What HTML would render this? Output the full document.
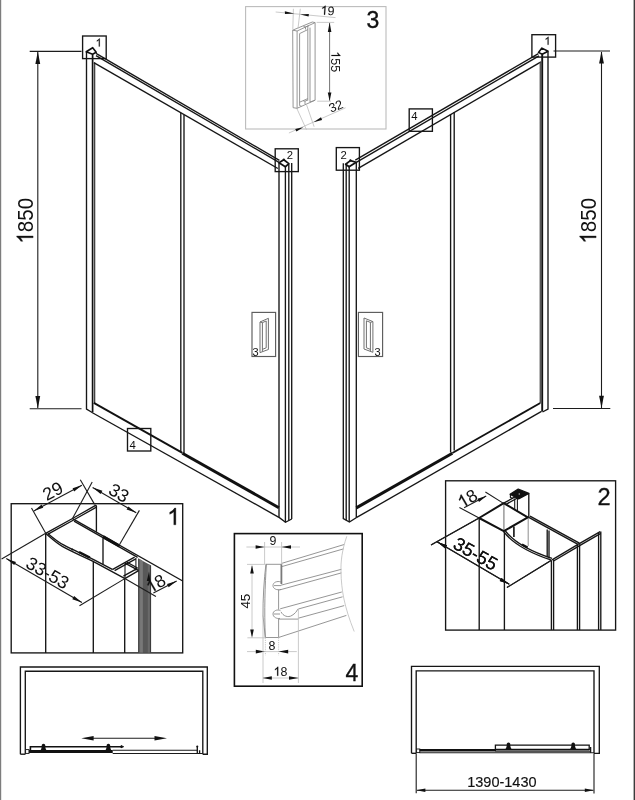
<!DOCTYPE html>
<html><head><meta charset="utf-8">
<style>
html,body{margin:0;padding:0;background:#fff;}
body{width:635px;height:800px;overflow:hidden;position:relative;font-family:"Liberation Sans",sans-serif;}
svg{position:absolute;left:0;top:0;display:block;opacity:0.999;will-change:transform}
text{font-family:"Liberation Sans",sans-serif;fill:#111}
.k{stroke:#161616;fill:none;stroke-width:1.35}
.k2{stroke:#111;fill:none;stroke-width:2}
.k3{stroke:#111;fill:none;stroke-width:2.6}
.t{stroke:#1c1c1c;fill:none;stroke-width:1.1}
.g{stroke:#8a8a8a;fill:none;stroke-width:0.9}
.hg{stroke:#707070;fill:none;stroke-width:1}
.lg{stroke:#bdbdbd;fill:none;stroke-width:0.8}
.a{fill:#111;stroke:none}
</style></head><body>
<svg width="635" height="800" viewBox="0 0 635 800">
<rect x="0" y="0" width="635" height="800" fill="#fff"/>
<!-- page edge lines -->
<rect x="0" y="0" width="1.2" height="800" fill="#7d7d7d"/>
<rect x="633.6" y="0" width="1.4" height="800" fill="#3c3c3c"/>

<!-- ============ LEFT PANEL ============ -->
<g id="leftpanel">
<!-- left post -->
<path class="k" d="M86.5 52 V409 L92.2 412.5"/>
<path d="M92.6 54.5 V412.3" stroke="#111" stroke-width="1.7" fill="none"/>
<path d="M94.7 62.4 V403" stroke="#222" stroke-width="1.1" fill="none"/>
<!-- cap -->
<path d="M86.2 51.8 L92.7 47.7 L96.2 52.3 L92.6 54.3 Z" stroke="#111" stroke-width="1.6" fill="#fff" stroke-linejoin="round"/>
<!-- top rail -->
<path class="k" d="M96 53.4 L279.4 160.3"/>
<path class="k" d="M96 55.6 L279 162.4"/>
<path class="k" d="M93.8 62.7 L277.9 168.5"/>
<!-- divider -->
<path class="k" d="M180.8 113 V452"/>
<path class="k" d="M184 115 V454"/>
<!-- bottom rail -->
<path d="M93.8 402.8 L182.4 452.9" stroke="#111" stroke-width="1.9" fill="none"/>
<path d="M182.4 453.2 L278.9 507.7" stroke="#111" stroke-width="3" fill="none"/>
<path class="k" d="M92 412.5 L278.9 517.3"/>
<!-- right post -->
<path class="k" d="M279 163 V517.3 L285.5 522.3 L291.7 519"/>
<path class="k" d="M285.4 167 V522.3"/>
<path class="k" d="M288.8 163.6 V520.6"/>
<path class="k" d="M291.7 163 V519"/>
<path d="M279 162.8 L283.8 159.8 L288.8 163.6 L285.3 166.8 Z" stroke="#111" stroke-width="1.7" fill="#fff" stroke-linejoin="round"/>
<circle cx="283.8" cy="159.7" r="1.1" fill="#111"/>
</g>

<!-- ============ RIGHT PANEL ============ -->
<g id="rightpanel">
<!-- left post -->
<path class="k" d="M343.3 163.3 V518.6 L349.4 522 L356.2 517.7"/>
<path class="k" d="M346.2 164.8 V520.2"/>
<path class="k" d="M349.2 167 V522"/>
<path class="k" d="M356.3 162 V517.7"/>
<path d="M345.6 164.2 L350.4 160.6 L356.2 162.2 L349.1 166.8 Z" stroke="#111" stroke-width="1.7" fill="#fff" stroke-linejoin="round"/>
<circle cx="350.4" cy="160.4" r="1.1" fill="#111"/>
<!-- top rail -->
<path class="k" d="M355.3 160.2 L538.4 53.6"/>
<path class="k" d="M356.3 162.4 L539 55.8"/>
<path class="k" d="M358.2 168.3 L541 61.9"/>
<!-- divider -->
<path class="k" d="M450.6 114 V452.5"/>
<path class="k" d="M454.2 112 V450.5"/>
<!-- bottom rail -->
<path d="M356.3 507.90000000000003 L452.4 453.3" stroke="#111" stroke-width="3" fill="none"/>
<path d="M452.4 453.0 L540.3 403" stroke="#111" stroke-width="1.9" fill="none"/>
<path class="k" d="M356.3 517.7 L541.5 411.4"/>
<!-- right post -->
<path d="M540.3 62.4 V403" stroke="#555" stroke-width="1.4" fill="none"/>
<path d="M542.2 54.6 V411.4" stroke="#111" stroke-width="1.9" fill="none"/>
<path class="k" d="M548 51.7 V409 L542.5 412"/>
<path d="M538.5 52.4 L541.9 48.1 L548.1 51.2 L542.2 54.3 Z" stroke="#111" stroke-width="1.6" fill="#fff" stroke-linejoin="round"/>
</g>

<!-- ============ DIMENSIONS 1850 ============ -->
<g id="dims">
<path class="t" d="M29.7 51.4 H81.5"/>
<path class="t" d="M29.7 408.7 H81.5"/>
<path class="t" d="M37.8 52 V408"/>
<path class="a" d="M37.8 51.6 L35.4 64 L40.2 64 Z"/>
<path class="a" d="M37.8 408.5 L35.4 396 L40.2 396 Z"/>
<g transform="translate(33.1 243.6) rotate(-90) scale(0.905 1)"><path d="M373 0H285V560Q253 530 201 500Q150 470 109 455V540Q183 575 238 625Q293 675 316 722H373Z" fill="#111" stroke="#111" stroke-width="14" transform="scale(0.02270 -0.02270)"/><text x="12.62" y="0" font-size="22.7">850</text></g>

<path class="t" d="M553.5 51 H610"/>
<path class="t" d="M553 408.5 H610.3"/>
<path class="t" d="M601.5 52 V408"/>
<path class="a" d="M601.5 51.2 L599.1 63.6 L603.9 63.6 Z"/>
<path class="a" d="M601.5 408.3 L599.1 395.8 L603.9 395.8 Z"/>
<g transform="translate(596.1 243.6) rotate(-90) scale(0.905 1)"><path d="M373 0H285V560Q253 530 201 500Q150 470 109 455V540Q183 575 238 625Q293 675 316 722H373Z" fill="#111" stroke="#111" stroke-width="14" transform="scale(0.02270 -0.02270)"/><text x="12.62" y="0" font-size="22.7">850</text></g>
</g>

<!-- ============ CALLOUT BOXES ============ -->
<g id="callouts">
<rect class="k" x="82.6" y="36" width="23.6" height="22.6"/>
<g transform="translate(95.6 46.6)"><path d="M373 0H285V560Q253 530 201 500Q150 470 109 455V540Q183 575 238 625Q293 675 316 722H373Z" fill="#111" stroke="#111" stroke-width="14" transform="scale(0.01120 -0.01120)"/></g>
<rect class="k" x="275.2" y="148.8" width="23.1" height="22.8"/>
<text x="286.8" y="159.2" font-size="11.3">2</text>
<rect class="k" x="336.3" y="147.6" width="23.1" height="22.6"/>
<text x="340.4" y="158.9" font-size="11.3">2</text>
<rect class="k" x="409.2" y="108.9" width="23.2" height="22.4"/>
<text x="411.2" y="119.8" font-size="11.3">4</text>
<rect class="k" x="531.9" y="34.7" width="23.7" height="22.4"/>
<g transform="translate(544.4 44.8)"><path d="M373 0H285V560Q253 530 201 500Q150 470 109 455V540Q183 575 238 625Q293 675 316 722H373Z" fill="#111" stroke="#111" stroke-width="14" transform="scale(0.01120 -0.01120)"/></g>
<rect class="k" x="127.5" y="428.5" width="23.3" height="22.5"/>
<text x="129.6" y="449.2" font-size="11.3">4</text>
</g>

<!-- ============ HANDLES ============ -->
<g id="handles" style="--h:#6a6a6a">
<rect x="252" y="312.4" width="23.6" height="44.1" fill="#fff" stroke="#5c5c5c" stroke-width="1.15"/>
<path class="hg" d="M260 322 L268.4 318.3 V349.5 L260 352.6 Z"/>
<path class="hg" d="M262.4 322.6 V351.5 M262.4 322.6 L266.2 321 V347.8 L262.4 349.4"/>
<path class="hg" d="M260 322 L262.4 322.6"/>
<text x="252.6" y="355.6" font-size="11">3</text>

<rect x="358.4" y="312.4" width="24.2" height="44.1" fill="#fff" stroke="#5c5c5c" stroke-width="1.15"/>
<path class="hg" d="M364 318 L372.9 321.6 V352.3 L364 349 Z"/>
<path class="hg" d="M370.4 322.4 V351.4 M370.4 322.4 L366.4 320.8 V347.8 L370.4 349.4"/>
<path class="hg" d="M372.9 321.6 L370.4 322.4"/>
<text x="374.6" y="355.6" font-size="11">3</text>
</g>

<!-- ============ BOX 3 (handle detail) ============ -->
<g id="box3">
<rect x="245.6" y="6.6" width="140.4" height="122.4" fill="none" stroke="#bcbcbc" stroke-width="1.1"/>
<!-- handle -->
<path class="g" d="M292.7 30.2 L312.3 22 L315.1 22.6 V100.2 L297.1 108.3 L293.1 107.7 Z"/>
<path class="g" d="M292.7 30.2 L297.1 31 V108.3 M297.1 31 L315.1 22.6"/>
<path class="g" d="M299.6 33.6 V105.6 L301.5 106.2 M299.6 33.6 L307.8 29.6"/>
<path class="g" d="M307.8 26 V100.5 M310 27.6 V102"/>
<path class="g" d="M303.5 26.4 L305.5 27 V29.5 M305.5 27 L309 25.5"/>
<path class="g" d="M299.6 102.2 L307.8 98.6 M303 100.7 L305 101.2 V104 M305 101.2 L307.8 100"/>
<path class="g" d="M310 102 L315.1 100.2"/>
<!-- dim 19 -->
<path class="lg" d="M293.4 8.8 L292.8 29.5 M300.3 8.8 L298 28.4"/>
<path class="lg" d="M275.7 12 L335.5 17.6"/>
<path class="a" d="M294.2 13.6 L284.8 11.3 L285 14 Z"/>
<path class="a" d="M300.2 14.4 L308.9 13.9 L308.6 16.6 Z"/>
<g transform="translate(320.4 14.4) rotate(4)"><path d="M373 0H285V560Q253 530 201 500Q150 470 109 455V540Q183 575 238 625Q293 675 316 722H373Z" fill="#111" stroke="#111" stroke-width="14" transform="scale(0.01250 -0.01250)"/><text x="6.95" y="0" font-size="12.5">9</text></g>
<!-- dim 155 -->
<path class="lg" d="M316.6 22.4 H334.2 M317.2 101.2 H331"/>
<path d="M329.6 23 V100.5" stroke="#5a5a5a" stroke-width="0.85" fill="none"/>
<path class="a" d="M329.6 22.4 L327.8 32 L331.4 32 Z"/>
<path class="a" d="M329.6 101 L327.8 92.6 L331.4 92.6 Z"/>
<g transform="translate(331.4 51.4) rotate(90)"><path d="M373 0H285V560Q253 530 201 500Q150 470 109 455V540Q183 575 238 625Q293 675 316 722H373Z" fill="#111" stroke="#111" stroke-width="14" transform="scale(0.01240 -0.01240)"/><text x="6.89" y="0" font-size="12.4">55</text></g>
<!-- dim 32 -->
<path class="lg" d="M297.1 109 L306.5 129.8 M306.5 104.6 L314.1 126.7"/>
<path class="lg" d="M288.9 133 L345.6 107.8"/>
<path class="a" d="M303.4 127.3 L295.2 128.9 L296.4 131.6 Z"/>
<path class="a" d="M313.5 122.3 L321 117.3 L322.1 119.9 Z"/>
<text transform="translate(331 112.8) rotate(-22)" font-size="12.6">32</text>
<text x="366.4" y="27.9" font-size="23" stroke="#111" stroke-width="0.35">3</text>
</g>

<!-- ============ BOX 1 ============ -->
<g id="box1">
<rect class="k" x="11.2" y="503.7" width="171.5" height="149.2"/>
<g transform="translate(167.2 524.8)"><path d="M373 0H285V560Q253 530 201 500Q150 470 109 455V540Q183 575 238 625Q293 675 316 722H373Z" fill="#111" stroke="#111" stroke-width="14" transform="scale(0.02320 -0.02320)"/></g>
<!-- seal (gray) -->
<path d="M138.4 558.4 L151 565.6 V652.6 H138.4 Z" fill="#585858"/>
<path d="M139.4 559 L142 560.6 V652.6 H139.4 Z" fill="#767676"/>
<path d="M147.8 563.8 L149.8 565 V652.6 H147.8 Z" fill="#6a6a6a"/>
<path d="M138.7 558.6 V652.6 M150.6 565.4 V652.6" stroke="#3a3a3a" stroke-width="1" fill="none"/>
<path d="M142.3 560.8 V652.6" stroke="#8a8a8a" stroke-width="0.7" fill="none"/>
<!-- verticals -->
<path class="k" d="M45.7 533.4 V652.9 M93.3 561.8 V652.9 M124.7 578.5 V652.9"/>
<path class="k" d="M96.4 506 V531.8"/>
<path class="k" d="M103 538.2 V564.2"/>
<path class="t" d="M125 563.4 V578 M135.9 558 V570.6"/>
<!-- wall A-B-C -->
<path class="k" d="M45.7 533.3 L72.5 518.5 L95.6 505.4 L96.8 506.2"/>
<path class="k" d="M47.6 534.4 L73.6 520 L96.4 507.2"/>
<!-- upper wall B -> right -->
<path class="k" d="M72.5 518.6 L182.7 581"/>
<path class="k" d="M74 521.2 L137.6 557.4"/>
<!-- hatch thick -->
<path d="M103 536.6 L119.6 546" stroke="#111" stroke-width="3" fill="none"/>
<!-- lower curved wall -->
<path class="k" d="M45.7 533.5 C50 537 56 543 62.7 546.6 C72 551.8 84 556.8 93.1 561.4 L125 578.6"/>
<path class="k" d="M47.8 533.4 C52 537 58 542 64 545.2 C73 550 85 555 94.2 559.8 L112.3 569.4"/>
<circle cx="72.3" cy="549.4" r="1" fill="#111"/>
<path d="M79 552 L89.8 557.6" stroke="#111" stroke-width="2.4" fill="none"/>
<!-- chamber -->
<path class="k" d="M112.3 569.6 L134.6 557.2 M114.6 570.6 L135.8 558.8"/>
<path class="k" d="M124.8 578.6 L138.6 570.6 M123.4 576.2 L137.4 568.4"/>
<path class="k" d="M125 563.2 L138.4 570.4 M126.6 562 L137.6 568"/>
<!-- extension + dim lines -->
<path class="t" d="M45.7 533.3 L1.6 559"/>
<path class="t" d="M45.7 533.3 L31.5 508"/>
<path class="t" d="M72.5 518.6 L92.2 482"/>
<path class="t" d="M80.3 479.7 L94.6 504.4"/>
<path class="t" d="M33.9 510.9 L81.9 485.2"/>
<path class="a" d="M34 510.8 L41.6 504.6 L43.2 507.8 Z"/>
<path class="a" d="M81.8 485.2 L74.2 491.4 L72.6 488.2 Z"/>
<text transform="translate(46.8 501.2) rotate(-28)" font-size="18">29</text>
<path class="t" d="M92.6 487.4 L136.2 512.8"/>
<path class="a" d="M92.8 487.5 L102.4 490.8 L100.6 494 Z"/>
<path class="a" d="M136.2 512.8 L126.6 509.6 L128.4 506.4 Z"/>
<path class="t" d="M139.4 510.4 L119.7 544.3"/>
<text transform="translate(107.2 493.2) rotate(30)" font-size="18">33</text>
<path class="t" d="M6.3 558.6 L81.9 602.5"/>
<path class="a" d="M6.4 558.7 L16 561.9 L14.2 565.1 Z"/>
<path class="a" d="M81.9 602.5 L72.3 599.3 L74.1 596.1 Z"/>
<path class="t" d="M79.5 605.7 L124.8 578.6"/>
<text transform="translate(24.6 566.8) rotate(30)" font-size="18">33-53</text>
<path class="t" d="M124.8 578.6 L155.9 596.4"/>
<path class="t" d="M153.4 592.9 L176.7 580.9"/>
<path class="a" d="M176.7 580.9 L168.6 587.2 L167 584 Z"/>
<path class="a" d="M149 571.6 L146.8 581 L150.4 581 Z"/>
<g transform="translate(150.4 593.6) rotate(-30)"><path d="M373 0H285V560Q253 530 201 500Q150 470 109 455V540Q183 575 238 625Q293 675 316 722H373Z" fill="#111" stroke="#111" stroke-width="14" transform="scale(0.01750 -0.01750)"/><text x="9.73" y="0" font-size="17.5">8</text></g>
</g>

<!-- ============ BOX 4 ============ -->
<g id="box4">
<rect x="234.4" y="533.6" width="127.8" height="152.6" fill="none" stroke="#111" stroke-width="1.6"/>
<text x="345.6" y="681.4" font-size="23" stroke="#111" stroke-width="0.3">4</text>
<!-- profile -->
<path class="g" d="M265.9 564.3 H281.6"/>
<path d="M281.4 564.3 V584" stroke="#7a7a7a" stroke-width="1.8" fill="none"/>
<path class="g" d="M265.9 564.3 C264 580 262.8 600 263 615.7 L265.3 637.5 H278.6"/>
<path class="g" d="M266.4 564.3 C265 585 264.2 610 265.3 637.5"/>
<path class="g" d="M278.6 589.6 V609.6 M278.6 618.6 V637.6"/>
<path class="g" d="M281 582 C277 580.6 273 582.4 273 585.6 C273 588.8 277 590.6 281 589.4 M274 585.6 H281"/>
<path class="g" d="M280.4 610.4 C277 609.2 273 610.8 273 614 C273 617.2 277 619 280 618.4 M274 614 H280"/>
<path class="g" d="M281 611.8 C283 616 288 618 292 615.4 C295 613.6 296.6 611.6 297.6 609.4 L298.4 609.4"/>
<path class="g" d="M278.6 619.1 H298.3"/>
<!-- iso lines -->
<path class="g" d="M281.6 563.4 L344.2 544.5"/>
<path class="g" d="M281.8 566.6 L343.5 548.9"/>
<path class="g" d="M281 585.2 L341.4 569.3"/>
<path class="g" d="M279.4 590 L341.4 572.9"/>
<path class="g" d="M280.2 608.8 L341.8 592"/>
<path class="g" d="M298.3 609 L342.6 596.8"/>
<path class="g" d="M298.3 618.2 L344.2 605.6"/>
<path class="g" d="M278.8 637.4 L346.4 615.4"/>
<!-- break line -->
<path class="lg" d="M346.8 536.3 C342 550 340.6 562 341 572 C341.4 590 344 606 354.2 631.5" stroke="#a8a8a8"/>
<!-- dim 9 -->
<path class="lg" d="M246.4 547 H300"/>
<path class="lg" d="M264.6 542 V564 M281.6 542 V564"/>
<path class="a" d="M264.6 547 L255.6 545.2 V548.8 Z"/>
<path class="a" d="M281.6 547 L291 545.2 V548.8 Z"/>
<text x="269.6" y="545" font-size="12.4">9</text>
<!-- dim 45 -->
<path class="lg" d="M247 564.4 H265.8 M247.4 637.8 H265"/>
<path class="lg" d="M252 566 V636" stroke="#999"/>
<path class="a" d="M252 565 L250.2 573.6 H253.8 Z"/>
<path class="a" d="M252 637.8 L250.2 629.4 H253.8 Z"/>
<text transform="translate(249.8 608.6) rotate(-90)" font-size="13.4">45</text>
<!-- dim 8 -->
<path class="lg" d="M247 651.6 H296.8"/>
<path class="lg" d="M265.4 637.6 V655.4 M278.6 637.6 V655.4" stroke-dasharray="1.2 1"/>
<path class="a" d="M264.8 651.6 L255.8 649.8 V653.4 Z"/>
<path class="a" d="M278.6 651.6 L288.2 649.8 V653.4 Z"/>
<text x="268.4" y="649.6" font-size="12.4">8</text>
<!-- dim 18 -->
<path class="lg" d="M263 615 V683 M298.4 609.4 V683"/>
<path class="lg" d="M263 678 H298.4"/>
<path class="a" d="M262.6 678 L271.8 676.2 V679.8 Z"/>
<path class="a" d="M298.6 678 L289 676.2 V679.8 Z"/>
<g transform="translate(273.6 675.8)"><path d="M373 0H285V560Q253 530 201 500Q150 470 109 455V540Q183 575 238 625Q293 675 316 722H373Z" fill="#111" stroke="#111" stroke-width="14" transform="scale(0.01240 -0.01240)"/><text x="6.89" y="0" font-size="12.4">8</text></g>
</g>

<!-- ============ BOX 2 ============ -->
<g id="box2">
<rect class="k" x="445.6" y="480.8" width="170" height="149.3"/>
<text x="597.6" y="505.4" font-size="23.6" stroke="#111" stroke-width="0.3">2</text>
<!-- verticals -->
<path class="k" d="M479.2 518 V630 M504.4 532 V630"/>
<path d="M503.9 504 V531" stroke="#8a8a8a" stroke-width="1.3" fill="none"/>
<path class="t" d="M514.7 498.5 V510 M517.4 498.8 V511.6"/>
<path class="k" d="M528.8 493.4 V517"/>
<path d="M528.2 518 V546" stroke="#999" stroke-width="1.1" fill="none"/>
<path d="M513.9 526.5 V537" stroke="#111" stroke-width="1.6" fill="none"/>
<path class="k" d="M547.2 529.4 V557.2 M549 530.4 V558.4"/>
<path class="k" d="M551.4 560.4 V630 M553.6 559.4 V630"/>
<path class="k" d="M577.4 545 V630 M579.6 544.2 V630"/>
<path class="k" d="M598.6 532.4 V630 M600.8 531.6 V630"/>
<!-- parallelogram -->
<path d="M479.1 518 L503.7 503.2 L527.8 517.3 L503.8 531.2 Z" stroke="#111" stroke-width="2" fill="none" stroke-linejoin="round"/>
<path class="k" d="M503.7 503.2 L515.5 496.6 M505.6 504.6 L517.4 498"/>
<!-- roller -->
<path d="M510 494.2 L518.2 489 L528.9 493.4 L518.6 498.9 Z" fill="#111" stroke="#111" stroke-width="1.2" stroke-linejoin="round"/>
<path d="M510.4 494.4 V497.4 L512.6 498.2" fill="none" stroke="#111" stroke-width="1.1"/>
<circle cx="519.3" cy="494" r="0.8" fill="#aaa"/>
<!-- right walls -->
<path class="k" d="M528.3 517.2 L578 544.4 M530 516.2 L579.4 543.2"/>
<path class="k" d="M578 544.4 L552 559.8 M579.6 545.6 L553.6 561"/>
<path class="k" d="M578 544.3 L600.2 531.6 M579.6 545.6 L600.8 533.4"/>
<!-- curve -->
<path class="k" d="M503.5 531.4 C512 543 530 553 551.4 560.2"/>
<path class="k" d="M505.4 531 C514 542 531 551.6 552 558.4"/>
<path d="M522 544.6 L527.6 547.4" stroke="#111" stroke-width="2.2" fill="none"/>
<!-- dims -->
<path class="t" d="M479.1 518 L459.4 507.5 M503.5 503.4 L485.4 492"/>
<path class="t" d="M464.1 507.8 L486.2 496"/>
<path class="a" d="M486.4 495.9 L479 502 L477.4 498.8 Z"/>
<g transform="translate(462 508.6) rotate(-30)"><path d="M373 0H285V560Q253 530 201 500Q150 470 109 455V540Q183 575 238 625Q293 675 316 722H373Z" fill="#111" stroke="#111" stroke-width="14" transform="scale(0.01750 -0.01750)"/><text x="9.73" y="0" font-size="17.5">8</text></g>
<path class="t" d="M479.1 518 L431 545"/>
<path class="t" d="M437 541.8 L509.3 584.3"/>
<path class="a" d="M437.4 542 L447 545.2 L445.2 548.4 Z"/>
<path class="a" d="M509.3 584.3 L499.7 581.1 L501.5 577.9 Z"/>
<path class="t" d="M506.9 587.5 L551.4 560.2"/>
<text transform="translate(451.8 547.4) rotate(30)" font-size="18.6">35-55</text>
</g>
<path class="t" d="M479.1 518 L431 545"/>
<path class="t" d="M437 541.8 L509.3 584.3"/>
<path class="a" d="M437.4 542 L447 545.2 L445.2 548.4 Z"/>
<path class="a" d="M509.3 584.3 L499.7 581.1 L501.5 577.9 Z"/>
<path class="t" d="M506.9 587.5 L551.4 560.2"/>
<text transform="translate(451.8 547.4) rotate(30)" font-size="18.6">35-55</text>
</g>

<!-- ============ PLAN LEFT ============ -->
<g id="planL">
<path class="k" d="M20.4 754.2 V667 H207.3 V754.2 H202.8"/>
<path class="k" d="M25.3 754.2 V671.2 H202.8 V754.2"/>
<path class="k" d="M20.4 754.2 H25.3"/>
<rect x="25.6" y="749.6" width="3.4" height="3.8" fill="#fff" stroke="#111" stroke-width="0.9"/>
<!-- door -->
<path d="M30.4 751 V746.7 H122" stroke="#111" stroke-width="1.6" fill="none"/>
<path d="M121 745.6 L123.6 746.7 L121 747.8 Z" fill="#111" stroke="#111" stroke-width="1"/>
<path d="M28.9 751.5 H112.7" stroke="#111" stroke-width="2.8" fill="none"/>
<path class="t" d="M112.7 750.2 H198 M112.7 753.5 H202.8"/>
<path class="a" d="M38.9 751.2 C40.9 750.6 41.5 748.8000000000001 41.8 746.2 A1.8 1.8 0 1 1 45.2 746.2 C45.5 748.8000000000001 46.1 750.6 48.1 751.2 Z"/>
<path class="a" d="M103.80000000000001 751.2 C105.80000000000001 750.6 106.4 748.8000000000001 106.7 746.2 A1.8 1.8 0 1 1 110.10000000000001 746.2 C110.4 748.8000000000001 111.0 750.6 113.0 751.2 Z"/>
<path class="k" d="M197.3 746 V753.6 M199.6 750.2 V753.6"/>
<circle cx="197.3" cy="746.4" r="1" fill="#111"/>
<!-- arrow -->
<path class="t" d="M92 738.2 H156"/>
<path class="a" d="M81.3 738.2 L93.6 735.9 V740.5 Z"/>
<path class="a" d="M167 738.2 L154.5 735.9 V740.5 Z"/>
</g>
<!-- ============ PLAN RIGHT ============ -->
<g id="planR">
<path class="k" d="M411.5 753.3 V666.4 H599.3 V753.3 H594"/>
<path class="k" d="M416.2 753.3 V670.8 H594 V753.3"/>
<path class="k" d="M411.5 753.3 H416.2"/>
<rect x="416.6" y="749" width="3.2" height="3.6" fill="#fff" stroke="#111" stroke-width="0.9"/>
<path d="M419.6 750.3 H496" stroke="#111" stroke-width="2.4" fill="none"/>
<path class="t" d="M419.6 752.8 H594"/>
<path d="M495.4 750 V745.2 H589.2 V750" stroke="#111" stroke-width="1.3" fill="none"/>
<path d="M495.4 749.6 H589.4" stroke="#111" stroke-width="1.6" fill="none"/>
<path class="t" d="M495.4 751.2 H590"/>
<path class="a" d="M503.9 750 C505.9 749.4 506.5 747.6 506.8 745.0 A1.8 1.8 0 1 1 510.2 745.0 C510.5 747.6 511.1 749.4 513.1 750 Z"/>
<path class="a" d="M568.6 750 C570.6 749.4 571.2 747.6 571.5 745.0 A1.8 1.8 0 1 1 574.9000000000001 745.0 C575.2 747.6 575.8000000000001 749.4 577.8000000000001 750 Z"/>
<path class="k" d="M590.6 747 V752.8"/>
<!-- dim -->
<path class="t" d="M416.2 753.5 V793.2 M594 753.5 V793.4"/>
<path class="t" d="M417 790.3 H593.4"/>
<path class="a" d="M416.4 790.3 L425.4 788.6 V792 Z"/>
<path class="a" d="M593.8 790.3 L584.8 788.6 V792 Z"/>
<text x="467.2" y="786.9" font-size="14.5" stroke="#111" stroke-width="0.15">1390-1430</text>
</g>
</svg>
</body></html>
